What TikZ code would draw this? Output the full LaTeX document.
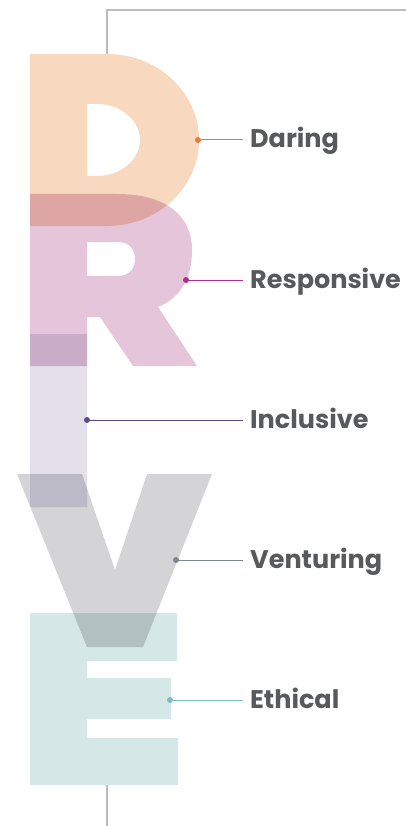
\documentclass[tikz,border=0pt]{standalone}
\usepackage{fontspec}
\setmainfont{Poppins}
\usetikzlibrary{calc}

\definecolor{peachD}{HTML}{F8D8BE}
\definecolor{pinkR}{HTML}{E4C5DA}
\definecolor{lilacI}{HTML}{E3E0EC}
\definecolor{greyV}{HTML}{D4D4D6}
\definecolor{mintE}{HTML}{D6E7E7}
\definecolor{lineD}{HTML}{EE7D2B}
\definecolor{lineR}{HTML}{B12C8B}
\definecolor{lineI}{HTML}{5C4B8A}
\definecolor{lineV}{HTML}{7B8697}
\definecolor{lineE}{HTML}{7ABFC3}
\definecolor{textgrey}{HTML}{58595B}
\definecolor{framegrey}{HTML}{BBBBBB}

\begin{document}
\begin{tikzpicture}[x=1pt,y=-1pt,
    dot/.style={circle,fill,inner sep=0pt,minimum size=6pt},
    lbl/.style={anchor=base west,inner sep=0pt,text=textgrey,
        font=\bfseries\fontsize{25.5}{25.5}\selectfont}]

    \useasboundingbox (0,0) rectangle (406,826);

    % frame line, only where the letters leave it visible
    \draw[framegrey,line width=1.5pt] (107,54)--(107,10)--(406,10);
    \draw[framegrey,line width=1.5pt] (107,785)--(107,826);

    \begin{scope}[blend group=multiply]
    % D
    \fill[peachD,even odd rule]
                (30,54)--(107,54)
                arc[start angle=-90,end angle=90,x radius=92,y radius=86]
                --(30,226)--cycle
                (87,104)--(97,104)
                arc[start angle=-90,end angle=90,x radius=43,y radius=36]
                --(87,176)--cycle;
    % R
    \fill[pinkR,even odd rule]
                (30,194)--(117,194)
                .. controls (165,194) and (192,215) .. (192,250)
                .. controls (192,281) and (178,299) .. (158,307)
                --(197,366)--(133,366)--(100,317)--(87,317)
                --(87,366)--(30,366)--cycle
                (87,242)--(118,242)
                .. controls (130,242) and (135,250) .. (135,259)
                .. controls (135,268) and (130,276) .. (118,276)
                --(87,276)--cycle;
    % I
    \fill[lilacI] (30,334) rectangle (87,507);
    % V
    \fill[greyV] (17,474)--(82,474)--(115,570)--(147,474)--(212,474)
                --(143,647)--(87,647)--cycle;
    % E
    \fill[mintE] (30,613)--(177,613)--(177,661)--(87,661)--(87,678)
                --(171,678)--(171,719)--(87,719)--(87,738)--(178,738)
                --(178,785)--(30,785)--cycle;
    \end{scope}

    \foreach \n/\x/\y/\c/\t in {D/198/140/lineD/Daring,
                                R/186/280/lineR/Responsive,
                                I/87/420/lineI/Inclusive,
                                V/176/560/lineV/Venturing,
                                E/170/700/lineE/Ethical} {
    \node[dot,\c] (dot\n) at (\x,\y) {};
    \node[lbl] (lbl\n) at (250,{\y+8}) {\t};
    \draw[\c,line width=1pt,shorten >=7pt] (dot\n)--(dot\n -| lbl\n.west);}

\end{tikzpicture}
\end{document}
